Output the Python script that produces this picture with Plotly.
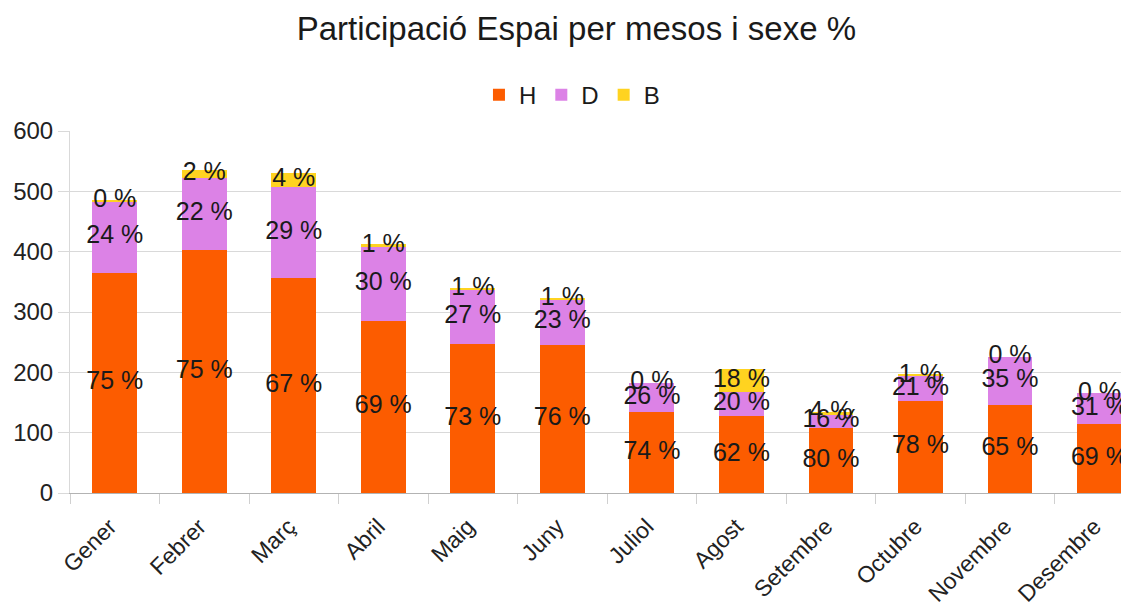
import plotly.graph_objects as go

mesos = ["Gener", "Febrer", "Març", "Abril", "Maig", "Juny",
         "Juliol", "Agost", "Setembre", "Octubre", "Novembre", "Desembre"]
homes = [365, 403, 356, 285, 247, 246, 135, 127, 108, 153, 146, 114]
dones = [118, 119, 152, 123, 90, 75, 47, 41, 22, 41, 80, 51]
altres = [2, 13, 22, 5, 2, 3, 0, 37, 5, 2, 0, 0]

series = [("H", homes, "#fc5c00"), ("D", dones, "#dc82e6"), ("B", altres, "#ffd320")]
FONT = "Liberation Sans, Arial, sans-serif"

totals = [h + d + b for h, d, b in zip(homes, dones, altres)]

fig = go.Figure()

for name, vals, color in series:
    fig.add_trace(go.Bar(
        x=mesos, y=vals, name=name,
        marker=dict(color=color, line=dict(width=0)),
    ))

# etiquetes de percentatge centrades a cada segment
base = [0] * len(mesos)
for name, vals, color in series:
    mids = [b + v / 2 for b, v in zip(base, vals)]
    pct = [f"{int(v / t * 100 + 0.5)} %" for v, t in zip(vals, totals)]
    fig.add_trace(go.Scatter(
        x=mesos, y=mids, text=pct, mode="text",
        textposition="middle center",
        textfont=dict(family=FONT, size=25, color="#1a1a1a"),
        showlegend=False, hoverinfo="skip", cliponaxis=False,
    ))
    base = [b + v for b, v in zip(base, vals)]

# la pàgina té 8 px de marge al body, per això la figura és una mica més petita
fig.update_layout(
    barmode="stack",
    bargap=0.5,
    width=1121, height=597,
    margin=dict(l=62, r=0, t=123, b=112, autoexpand=False),
    plot_bgcolor="white", paper_bgcolor="white",
    font=dict(family=FONT, size=24, color="#222222"),
    title=dict(
        text="Participació Espai per mesos i sexe %",
        x=0.507, xanchor="center", y=0.966, yanchor="middle",
        font=dict(family=FONT, size=33, color="#1a1a1a"),
    ),
    legend=dict(
        orientation="h", x=0.474, xanchor="center",
        yref="container", y=0.854, yanchor="middle",
        font=dict(family=FONT, size=24, color="#1a1a1a"),
        itemwidth=30, traceorder="normal",
    ),
    xaxis=dict(
        range=[-0.5, 11.33],
        automargin=False,
        tickangle=-45,
        tickson="boundaries",
        ticks="outside", ticklen=10, tickcolor="#d0d0d0",
        ticklabelstandoff=10, ticklabelshift=-5,
        showgrid=False,
        showline=True, linecolor="#b3b3b3", linewidth=1,
        tickfont=dict(family=FONT, size=23, color="#222222"),
    ),
    yaxis=dict(
        range=[0, 600], dtick=100,
        automargin=False,
        showgrid=True, gridcolor="#d9d9d9", gridwidth=1,
        ticks="outside", ticklen=11, tickcolor="#d9d9d9",
        showline=True, linecolor="#d9d9d9", linewidth=1,
        zeroline=False,
        tickfont=dict(family=FONT, size=24, color="#222222"),
    ),
)

fig.write_html("out.html")
